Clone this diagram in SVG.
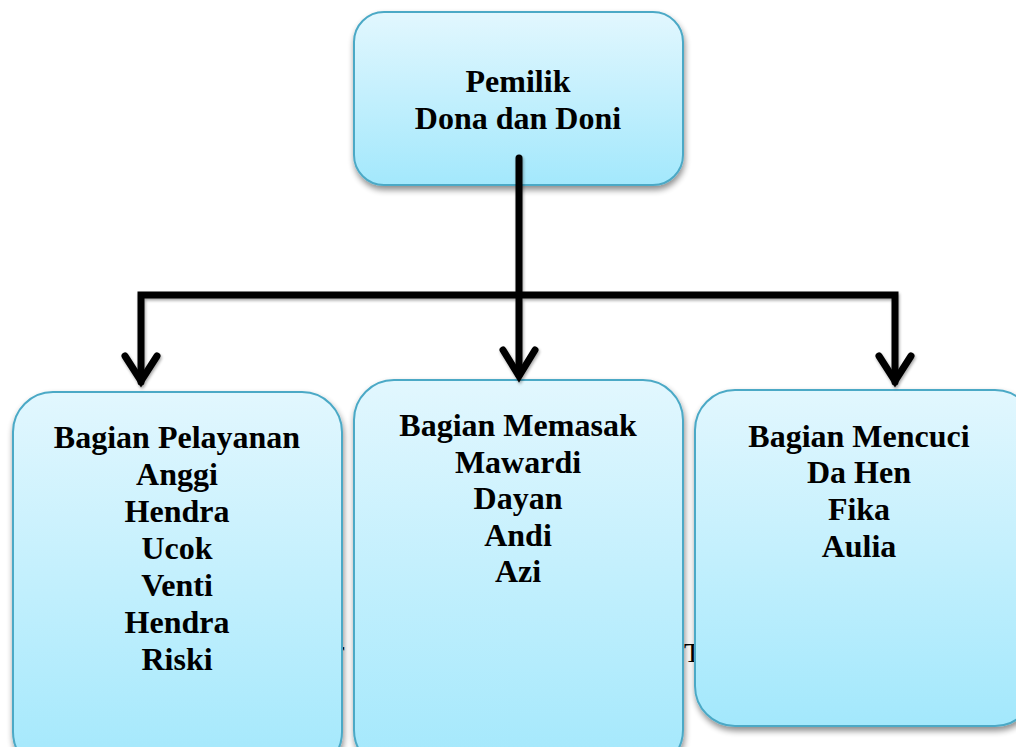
<svg xmlns="http://www.w3.org/2000/svg" width="1016" height="747" viewBox="0 0 1016 747">
<defs>
<linearGradient id="g" x1="0" y1="0" x2="0" y2="1">
<stop offset="0" stop-color="#e2f7fe"/>
<stop offset="1" stop-color="#a3e8fc"/>
</linearGradient>
<filter id="sh" x="-10%" y="-10%" width="125%" height="130%">
<feGaussianBlur in="SourceAlpha" stdDeviation="3"/>
<feOffset dx="1" dy="4" result="b"/>
<feComponentTransfer><feFuncA type="linear" slope="0.45"/></feComponentTransfer>
<feMerge><feMergeNode/><feMergeNode in="SourceGraphic"/></feMerge>
</filter>
<filter id="lsh" x="-10%" y="-10%" width="130%" height="130%">
<feGaussianBlur in="SourceAlpha" stdDeviation="1.5"/>
<feOffset dx="1" dy="2"/>
<feComponentTransfer><feFuncA type="linear" slope="0.35"/></feComponentTransfer>
<feMerge><feMergeNode/><feMergeNode in="SourceGraphic"/></feMerge>
</filter>
</defs>
<style>
.box{fill:url(#g);stroke:#4ba9c6;stroke-width:2;filter:url(#sh)}
.t{font-family:"Liberation Serif","Times New Roman",serif;font-weight:bold;font-size:32px;fill:#000;text-anchor:middle}
.bg{font-family:"Liberation Serif",serif;font-size:28px;fill:#000}
.ln{fill:none;stroke:#000;stroke-width:7;stroke-linecap:round;stroke-linejoin:miter}
</style>
<rect width="1016" height="747" fill="#fff"/>
<text class="bg" x="335" y="660">r</text>
<text class="bg" x="684" y="662">T</text>
<g id="pemilik">
<rect class="box" x="354" y="12" width="329" height="173" rx="30"/>
<text class="t" x="518" y="92">Pemilik</text>
<text class="t" x="518" y="129">Dona dan Doni</text>
</g>
<g id="pelayanan">
<rect class="box" x="13" y="392" width="329" height="380" rx="40"/>
<text class="t" x="177" y="448">Bagian Pelayanan</text>
<text class="t" x="177" y="485">Anggi</text>
<text class="t" x="177" y="522">Hendra</text>
<text class="t" x="177" y="559">Ucok</text>
<text class="t" x="177" y="596">Venti</text>
<text class="t" x="177" y="633">Hendra</text>
<text class="t" x="177" y="670">Riski</text>
</g>
<g id="memasak">
<rect class="box" x="354" y="380" width="329" height="390" rx="40"/>
<text class="t" x="518" y="436">Bagian Memasak</text>
<text class="t" x="518" y="473">Mawardi</text>
<text class="t" x="518" y="509">Dayan</text>
<text class="t" x="518" y="546">Andi</text>
<text class="t" x="518" y="582">Azi</text>
</g>
<g id="mencuci">
<rect class="box" x="695" y="390" width="340" height="336" rx="40"/>
<text class="t" x="859" y="447">Bagian Mencuci</text>
<text class="t" x="859" y="483">Da Hen</text>
<text class="t" x="859" y="520">Fika</text>
<text class="t" x="859" y="557">Aulia</text>
</g>
<g id="connectors" filter="url(#lsh)">
<path class="ln" d="M519 158 V375"/>
<path class="ln" d="M141 382 V295 H895 V382"/>
<path class="ln" d="M503 350 L519 376 L535 350"/>
<path class="ln" d="M125 356 L141 381 L157 356"/>
<path class="ln" d="M879 356 L895 381 L911 356"/>
</g>
</svg>
